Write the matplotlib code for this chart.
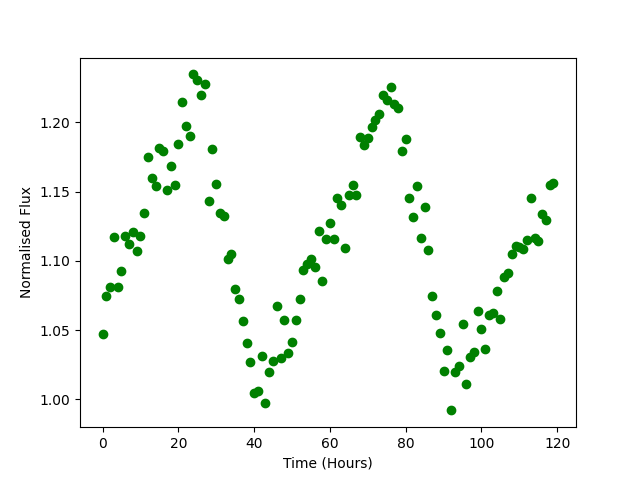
import matplotlib
matplotlib.use("Agg")
import matplotlib.pyplot as plt
import numpy as np

time_hours = list(range(120))
flux = [
    1.0476, 1.0750, 1.0815, 1.1175, 1.0815, 1.0925, 1.1183, 1.1125, 1.1206, 1.1069,
    1.1183, 1.1349, 1.1752, 1.1596, 1.1538, 1.1817, 1.1791, 1.1514, 1.1687, 1.1550,
    1.1841, 1.2149, 1.1971, 1.1904, 1.2346, 1.2303, 1.2194, 1.2279, 1.1435, 1.1805,
    1.1558, 1.1343, 1.1327, 1.1014, 1.1048, 1.0795, 1.0728, 1.0565, 1.0404, 1.0273,
    1.0050, 1.0058, 1.0317, 0.9971, 1.0195, 1.0274, 1.0671, 1.0296, 1.0570, 1.0332,
    1.0418, 1.0577, 1.0728, 1.0932, 1.0976, 1.1012, 1.0954, 1.1219, 1.0853, 1.1158,
    1.1276, 1.1158, 1.1452, 1.1403, 1.1093, 1.1473, 1.1550, 1.1478, 1.1897, 1.1839,
    1.1887, 1.1966, 1.2014, 1.2057, 1.2199, 1.2163, 1.2252, 1.2135, 1.2103, 1.1796,
    1.1882, 1.1452, 1.1315, 1.1543, 1.1168, 1.1387, 1.1082, 1.0750, 1.0613, 1.0483,
    1.0202, 1.0356, 0.9921, 1.0197, 1.0240, 1.0548, 1.0110, 1.0307, 1.0346, 1.0637,
    1.0507, 1.0363, 1.0606, 1.0627, 1.0781, 1.0579, 1.0882, 1.0911, 1.1053, 1.1108,
    1.1098, 1.1089, 1.1154, 1.1452, 1.1168, 1.1147, 1.1341, 1.1298, 1.1545, 1.1565,
]

fig, ax = plt.subplots(figsize=(6.4, 4.8), dpi=100)
ax.plot(time_hours, flux, 'go')
ax.set_xlabel("Time (Hours)")
ax.set_ylabel("Normalised Flux")
fig.savefig("out.png", dpi=100)
